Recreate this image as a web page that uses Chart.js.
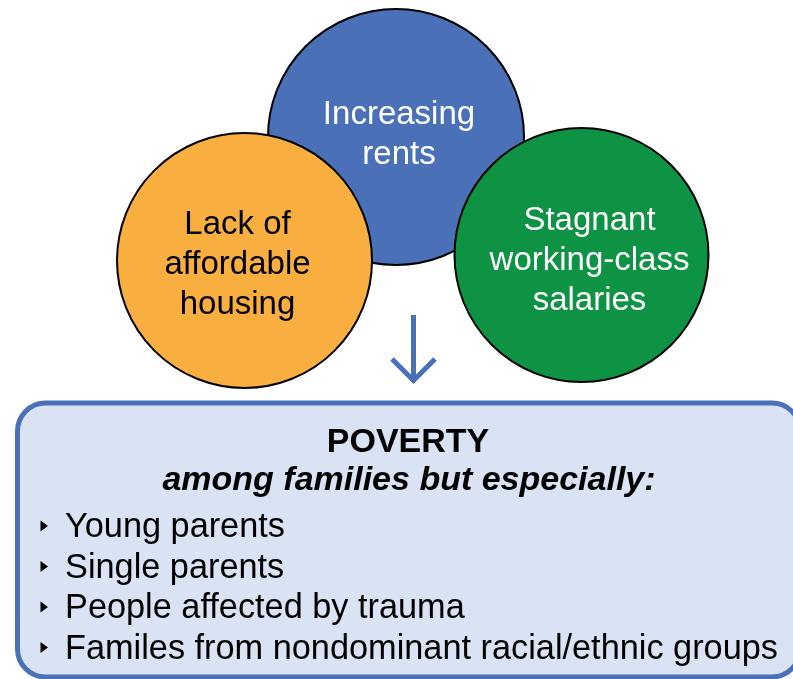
<!DOCTYPE html>
<html>
<head>
<meta charset="utf-8">
<script src="https://cdn.jsdelivr.net/npm/chart.js@4"></script>
<style>
  html, body { margin: 0; padding: 0; background: #ffffff; }
  #wrap { width: 793px; height: 679px; position: relative; }
</style>
</head>
<body>
<div id="wrap"><canvas id="diagram" width="793" height="679"></canvas></div>
<script>
// the three causes, drawn as bubbles (x, y, radius in pixels of the 793x679 page)
const causes = [
  ["Increasing", "rents"],
  ["Lack of", "affordable", "housing"],
  ["Stagnant", "working-class", "salaries"],
];
const causeX = [396, 244.5, 581.5];
const causeY = [137, 260.5, 255];
const causeR = [128, 127.5, 127];

const fillColors = ["#4a71b8", "#f9ae40", "#0d9343"];
const textColors = ["#ffffff", "#000000", "#ffffff"];
// small nudges so the words sit where they do in the original
const labelShift = [[3, -4], [-7, 2], [8, 4]];

const headline = "POVERTY";
const subhead = "among families but especially:";
const groups = [
  "Young parents",
  "Single parents",
  "People affected by trauma",
  "Familes from nondominant racial/ethnic groups",
];

const FONT = '"Liberation Sans", Arial, sans-serif';
const boxBlue = "#4a71b8";

const bubbleData = causeX.map((x, i) => ({ x: x, y: causeY[i], r: causeR[i] }));

// rounded box, arrow and the text, drawn in page coordinates via the scales
const diagramPlugin = {
  id: "diagram",
  beforeDatasetsDraw(chart) {
    const ctx = chart.ctx;
    const xs = chart.scales.x;
    const ys = chart.scales.y;
    const px = (v) => xs.getPixelForValue(v);
    const py = (v) => ys.getPixelForValue(v);

    // poverty box
    const left = px(17.5), top = py(403), right = px(800), bottom = py(677), rad = 28;
    ctx.save();
    ctx.beginPath();
    ctx.moveTo(left + rad, top);
    ctx.lineTo(right - rad, top);
    ctx.arcTo(right, top, right, top + rad, rad);
    ctx.lineTo(right, bottom - rad);
    ctx.arcTo(right, bottom, right - rad, bottom, rad);
    ctx.lineTo(left + rad, bottom);
    ctx.arcTo(left, bottom, left, bottom - rad, rad);
    ctx.lineTo(left, top + rad);
    ctx.arcTo(left, top, left + rad, top, rad);
    ctx.closePath();
    ctx.fillStyle = "#dae3f3";
    ctx.fill();
    ctx.lineWidth = 5;
    ctx.strokeStyle = boxBlue;
    ctx.stroke();

    // down arrow
    ctx.lineWidth = 5;
    ctx.lineCap = "butt";
    ctx.lineJoin = "miter";
    ctx.beginPath();
    ctx.moveTo(px(413.5), py(315));
    ctx.lineTo(px(413.5), py(380));
    ctx.stroke();
    ctx.beginPath();
    ctx.moveTo(px(392), py(359));
    ctx.lineTo(px(413.5), py(380.5));
    ctx.lineTo(px(435), py(359));
    ctx.stroke();
    ctx.restore();
  },
  afterDatasetsDraw(chart) {
    const ctx = chart.ctx;
    const meta = chart.getDatasetMeta(0);
    const xs = chart.scales.x;
    const ys = chart.scales.y;
    ctx.save();
    ctx.textAlign = "center";
    ctx.textBaseline = "alphabetic";

    // words inside the circles
    ctx.font = "33px " + FONT;
    meta.data.forEach((pt, i) => {
      const lines = causes[i];
      const lh = 40;
      ctx.fillStyle = textColors[i];
      lines.forEach((line, j) => {
        const y = pt.y + (j - (lines.length - 1) / 2) * lh + 11 + labelShift[i][1];
        ctx.fillText(line, pt.x + labelShift[i][0], y);
      });
    });

    // poverty heading
    ctx.fillStyle = "#000000";
    ctx.font = "bold 34px " + FONT;
    ctx.fillText(headline, xs.getPixelForValue(408), ys.getPixelForValue(452));
    ctx.font = "italic bold 34px " + FONT;
    ctx.fillText(subhead, xs.getPixelForValue(409), ys.getPixelForValue(490));

    // bullet list
    ctx.textAlign = "left";
    ctx.font = "34.3px " + FONT;
    groups.forEach((g, k) => {
      const base = ys.getPixelForValue(537 + k * 40.5);
      const bx = xs.getPixelForValue(40.5);
      ctx.beginPath();
      ctx.moveTo(bx, base - 16.5);
      ctx.lineTo(bx + 7.5, base - 11);
      ctx.lineTo(bx, base - 5.5);
      ctx.closePath();
      ctx.fill();
      ctx.fillText(g, xs.getPixelForValue(65), base);
    });
    ctx.restore();
  },
};

new Chart(document.getElementById("diagram"), {
  type: "bubble",
  data: {
    datasets: [
      {
        label: "Causes",
        data: bubbleData,
        backgroundColor: fillColors,
        borderColor: "#000000",
        borderWidth: 2,
        hoverBorderWidth: 2,
        hoverRadius: 0,
      },
    ],
  },
  options: {
    responsive: false,
    animation: false,
    events: [],
    layout: { padding: 0, autoPadding: false },
    clip: false,
    plugins: {
      legend: { display: false },
      tooltip: { enabled: false },
      title: { display: false },
    },
    scales: {
      x: { type: "linear", min: 0, max: 793, display: false },
      y: { type: "linear", min: 0, max: 679, reverse: true, display: false },
    },
  },
  plugins: [diagramPlugin],
});
</script>
</body>
</html>
